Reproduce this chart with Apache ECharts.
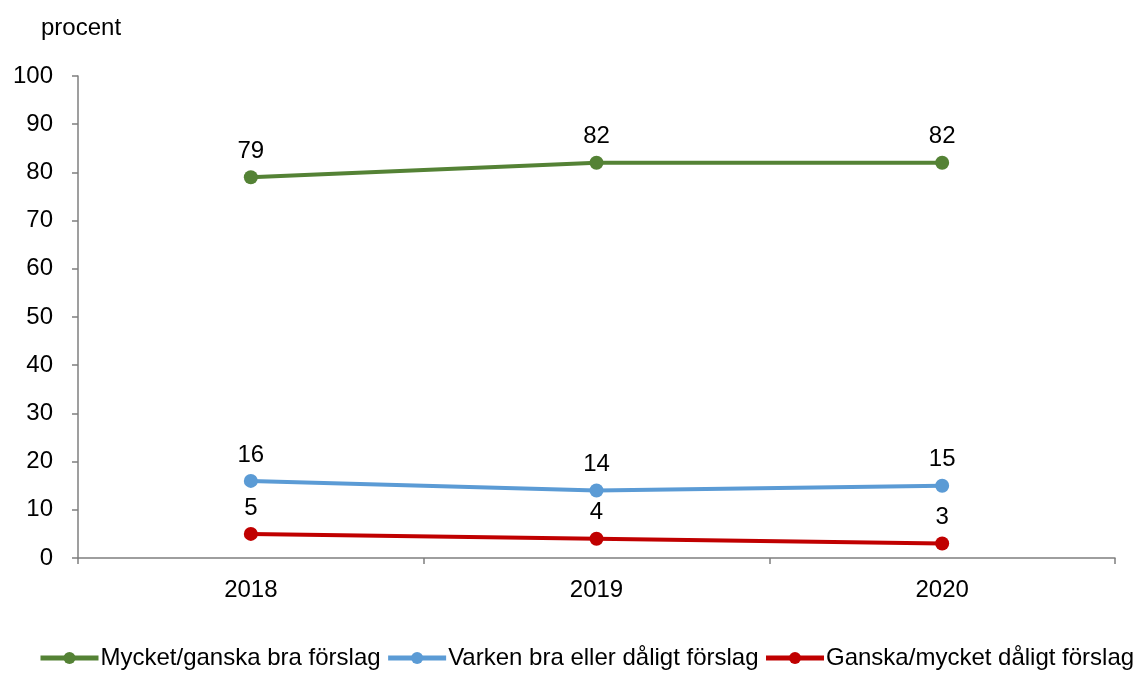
<!DOCTYPE html>
<html><head><meta charset="utf-8">
<script src="https://cdn.jsdelivr.net/npm/echarts@6/dist/echarts.min.js"></script>
<style>html,body{margin:0;padding:0;background:#fff}#c{width:1135px;height:675px}</style>
</head><body><div id="c"></div>
<script>
const categories = ['2018', '2019', '2020'];
const seriesNames = ['Mycket/ganska bra förslag', 'Varken bra eller dåligt förslag', 'Ganska/mycket dåligt förslag'];
const good = [79, 82, 82];
const neutral = [16, 14, 15];
const bad = [5, 4, 3];
const colors = ['#548235', '#5B9BD5', '#C00000'];
const yTicks = { min: 0, max: 100, interval: 10 };

const font = 'Liberation Sans, Arial, sans-serif';
function mk(name, data, color) {
  return {
    name, type: 'line', data, color,
    symbol: 'circle', symbolSize: 14,
    lineStyle: { width: 4, color },
    itemStyle: { color },
    label: { show: true, position: 'top', distance: 7, color: '#000', fontSize: 24, fontFamily: font },
    emphasis: { disabled: true }
  };
}
const chart = echarts.init(document.getElementById('c'));
chart.setOption({
  animation: false,
  title: { text: 'procent', left: 36, top: 11, textStyle: { fontSize: 24, fontWeight: 'normal', color: '#000', fontFamily: font } },
  grid: { left: 78, right: 20, top: 76, bottom: 117, containLabel: false },
  legend: {
    bottom: 5, left: 38, width: 1097, padding: 0, itemGap: 5, itemWidth: 58, itemHeight: 15,
    lineStyle: { width: 5 },
    textStyle: { fontSize: 24, color: '#000', fontFamily: font, padding: [0, 0, 0, -3] },
    data: seriesNames
  },
  xAxis: {
    type: 'category', data: categories, boundaryGap: true,
    axisLine: { lineStyle: { color: '#7f7f7f', width: 1.5 } },
    axisTick: { show: true, length: 6, lineStyle: { color: '#7f7f7f', width: 1.5 } },
    axisLabel: { fontSize: 24, color: '#000', fontFamily: font, margin: 20 },
    splitLine: { show: false }
  },
  yAxis: {
    type: 'value', min: yTicks.min, max: yTicks.max, interval: yTicks.interval,
    axisLine: { show: true, lineStyle: { color: '#7f7f7f', width: 1.5 } },
    axisTick: { show: true, length: 6, lineStyle: { color: '#7f7f7f', width: 1.5 } },
    axisLabel: { fontSize: 24, color: '#000', fontFamily: font, margin: 25 },
    splitLine: { show: false }
  },
  series: [mk(seriesNames[0], good, colors[0]), mk(seriesNames[1], neutral, colors[1]), mk(seriesNames[2], bad, colors[2])]
});
</script></body></html>
